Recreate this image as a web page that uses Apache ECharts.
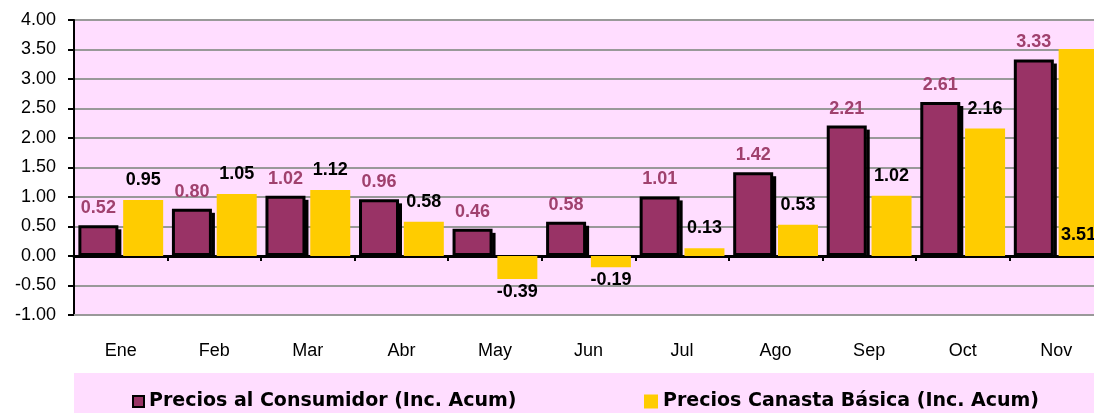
<!DOCTYPE html>
<html>
<head>
<meta charset="utf-8">
<script src="https://cdn.jsdelivr.net/npm/echarts@6/dist/echarts.min.js"></script>
<style>
  html, body { margin: 0; padding: 0; background: #fff; overflow: hidden; }
  /* chart is a bit wider than the window: the last bar is cut off like in the source */
  #chart { width: 1103px; height: 413px; }
</style>
</head>
<body>
<div id="chart"></div>
<script>
// months
var months = ['Ene', 'Feb', 'Mar', 'Abr', 'May', 'Jun', 'Jul', 'Ago', 'Sep', 'Oct', 'Nov'];
// Precios al Consumidor (Inc. Acum)
var consumidor = [0.52, 0.80, 1.02, 0.96, 0.46, 0.58, 1.01, 1.42, 2.21, 2.61, 3.33];
// Precios Canasta Basica (Inc. Acum)
var canasta = [0.95, 1.05, 1.12, 0.58, -0.39, -0.19, 0.13, 0.53, 1.02, 2.16, 3.51];
var yTicks = [-1.00, -0.50, 0.00, 0.50, 1.00, 1.50, 2.00, 2.50, 3.00, 3.50, 4.00];

var FONT = '"Liberation Sans", Arial, sans-serif';
var LEGEND_FONT = '"DejaVu Sans", sans-serif';
var BAR_W = 40;
var GAP = 0.12; // barGap, relative to bar width
var chart = echarts.init(document.getElementById('chart'));

var canastaData = canasta.map(function (v, i) {
   var item = { value: v };
   if (v < 0) {
      item.label = { position: 'bottom', distance: 4 };
   } else if (i === canasta.length - 1) {
      // Excel put the last one inside the bar, near the base
      item.label = { position: 'insideBottom', distance: 12 };
   }
   return item;
});

// black drop shadow on the right side of the purple bars
function renderShadow(params, api) {
   var base = api.coord([api.value(0), 0]);
   var top = api.coord([api.value(0), api.value(1)]);
   var x = base[0] - BAR_W * GAP / 2 - 0.5;
   return {
      type: 'rect',
      shape: { x: x, y: top[1] + 4, width: 3.5, height: base[1] - top[1] - 4 },
      style: { fill: '#000' }
   };
}

var option = {
   animation: false,
   graphic: [{
      type: 'rect',
      left: 74, top: 373,
      z: 0,
      shape: { width: 1029, height: 40 },
      style: { fill: '#FFDDFF' }
   }],
   grid: {
      left: 74, top: 20, right: 0, height: 295,
      show: true, backgroundColor: '#FFDDFF', borderWidth: 0
   },
   legend: [
      {
         data: ['Precios al Consumidor (Inc. Acum)'],
         left: 127, top: 387, z: 10,
         itemWidth: 11, itemHeight: 11, itemGap: 9,
         icon: 'rect',
         textStyle: { fontFamily: LEGEND_FONT, fontSize: 19, fontWeight: 'bold', color: '#000' }
      },
      {
         data: ['Precios Canasta Básica (Inc. Acum)'],
         left: 639, top: 387, z: 10,
         itemWidth: 14, itemHeight: 14, itemGap: 7,
         icon: 'rect',
         textStyle: { fontFamily: LEGEND_FONT, fontSize: 19, fontWeight: 'bold', color: '#000' }
      }
   ],
   xAxis: [
      {
         // zero line with ticks between months
         type: 'category',
         data: months,
         axisLine: { onZero: true, lineStyle: { color: '#000', width: 3 } },
         axisTick: { show: true, length: 5, lineStyle: { color: '#000', width: 2 } },
         axisLabel: { show: false },
         splitLine: { show: false }
      },
      {
         // month labels at bottom of plot
         type: 'category',
         data: months,
         position: 'bottom',
         axisLine: { onZero: false, lineStyle: { color: '#999', width: 2 } },
         axisTick: { show: false },
         axisLabel: { fontFamily: FONT, fontSize: 18, color: '#000', margin: 27 }
      }
   ],
   yAxis: {
      type: 'value',
      min: yTicks[0], max: yTicks[yTicks.length - 1], interval: 0.5,
      axisLine: { show: true, lineStyle: { color: '#000', width: 2 } },
      axisTick: { show: true, inside: false, length: 6, lineStyle: { color: '#000', width: 2 } },
      axisLabel: {
         fontFamily: FONT, fontSize: 18, color: '#000', margin: 18,
         formatter: function (v) { return v.toFixed(2); }
      },
      splitLine: { show: true, lineStyle: { color: '#999', width: 2 } }
   },
   series: [
      {
         name: 'Precios al Consumidor (Inc. Acum)',
         type: 'bar',
         xAxisIndex: 0,
         data: consumidor,
         barWidth: BAR_W,
         barGap: (GAP * 100) + '%',
         itemStyle: { color: '#993366', borderColor: '#000', borderWidth: 3 },
         label: {
            show: true, position: 'top', distance: 8,
            fontFamily: FONT, fontSize: 18, fontWeight: 'bold', color: '#A0416E',
            formatter: function (p) { return p.value.toFixed(2); }
         },
         z: 3
      },
      {
         name: 'Precios Canasta Básica (Inc. Acum)',
         type: 'bar',
         xAxisIndex: 0,
         data: canastaData,
         barWidth: BAR_W,
         itemStyle: { color: '#FFCC00' },
         label: {
            show: true, position: 'top', distance: 11,
            fontFamily: FONT, fontSize: 18, fontWeight: 'bold', color: '#000',
            formatter: function (p) { return p.value.toFixed(2); }
         },
         z: 3
      },
      {
         name: 'shadow',
         type: 'custom',
         xAxisIndex: 0,
         silent: true,
         data: consumidor.map(function (v, i) { return [i, v]; }),
         encode: { x: 0, y: 1 },
         renderItem: renderShadow,
         z: 4
      }
   ]
};
chart.setOption(option);
</script>
</body>
</html>
